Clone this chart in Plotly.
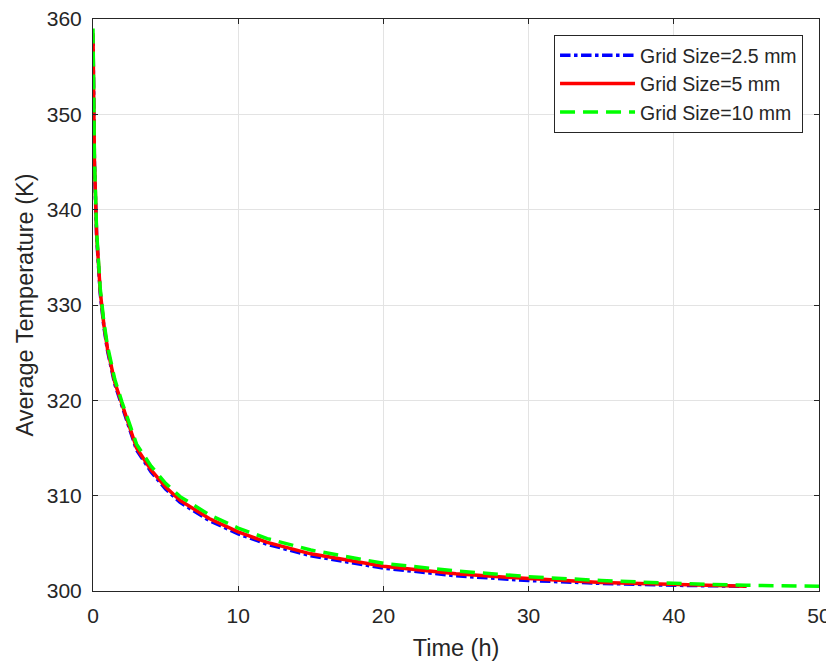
import plotly.graph_objects as go

# Time (h)
time_25 = [0, 0.1, 0.25, 0.5, 0.75, 1, 1.5, 2, 3, 4, 5, 6, 8, 10, 12, 15, 20, 25, 30, 35, 40, 45]
temp_25 = [358.3, 344.8, 337.2, 331.2, 327.7, 325.2, 321.7, 319.3, 314.8, 312.5, 310.7, 309.3, 307.4, 306.0, 304.9, 303.7, 302.4, 301.6, 301.1, 300.8, 300.6, 300.5]

time_5 = [0, 0.1, 0.25, 0.5, 0.75, 1, 1.5, 2, 3, 4, 5, 6, 8, 10, 12, 15, 20, 25, 30, 35, 40, 45]
temp_5 = [358.5, 345.0, 337.4, 331.4, 327.9, 325.4, 321.9, 319.5, 315.0, 312.7, 310.9, 309.5, 307.6, 306.2, 305.1, 303.9, 302.6, 301.8, 301.3, 300.9, 300.7, 300.5]

time_10 = [0, 0.1, 0.25, 0.5, 0.75, 1, 1.5, 2, 3, 4, 5, 6, 8, 10, 12, 15, 20, 25, 30, 35, 40, 45, 50]
temp_10 = [359.0, 345.3, 337.7, 331.7, 328.2, 325.7, 322.2, 319.8, 315.4, 313.1, 311.3, 309.9, 308.0, 306.6, 305.5, 304.3, 302.9, 302.1, 301.5, 301.1, 300.8, 300.6, 300.5]

x_ticks = [0, 10, 20, 30, 40, 50]
y_ticks = [300, 310, 320, 330, 340, 350, 360]

FONT = "Liberation Sans, Arial, sans-serif"

fig = go.Figure()
fig.add_trace(go.Scatter(x=time_25, y=temp_25, mode="lines", name="Grid Size=2.5 mm",
                         line=dict(color="#0000ff", width=3.5, dash="dashdot")))
fig.add_trace(go.Scatter(x=time_5, y=temp_5, mode="lines", name="Grid Size=5 mm",
                         line=dict(color="#ff0000", width=3.5)))
fig.add_trace(go.Scatter(x=time_10, y=temp_10, mode="lines", name="Grid Size=10 mm",
                         line=dict(color="#00ff00", width=3.5, dash="15px,8px")))

axis_common = dict(
    showline=True, linecolor="#262626", linewidth=1, mirror="ticks",
    ticks="inside", ticklen=5, tickcolor="#262626",
    showgrid=True, gridcolor="#e3e3e3", gridwidth=1, zeroline=False,
    tickfont=dict(family=FONT, size=21, color="#262626"),
    automargin=False, ticklabeloverflow="allow",
)

fig.update_xaxes(range=[0, 50], tickvals=x_ticks, ticklabelstandoff=6,
                 title=dict(text="Time (h)", font=dict(family=FONT, size=23.5, color="#262626"), standoff=13),
                 **axis_common)
fig.update_yaxes(range=[300, 360], tickvals=y_ticks, ticklabelstandoff=6,
                 title=dict(text="Average Temperature (K)", font=dict(family=FONT, size=23.5, color="#262626"), standoff=6),
                 **axis_common)

# page body has an 8px default margin, so the figure is sized/margined to compensate
fig.update_layout(
    width=826, height=657,
    margin=dict(l=85, r=15, t=11, b=74),
    paper_bgcolor="white", plot_bgcolor="white",
    showlegend=True,
    legend=dict(x=0.978, y=0.972, xanchor="right", yanchor="top",
                bgcolor="white", bordercolor="#262626", borderwidth=1,
                font=dict(family=FONT, size=19.5, color="#262626"),
                itemwidth=75, tracegroupgap=0),
)

fig.write_html("out.html")
